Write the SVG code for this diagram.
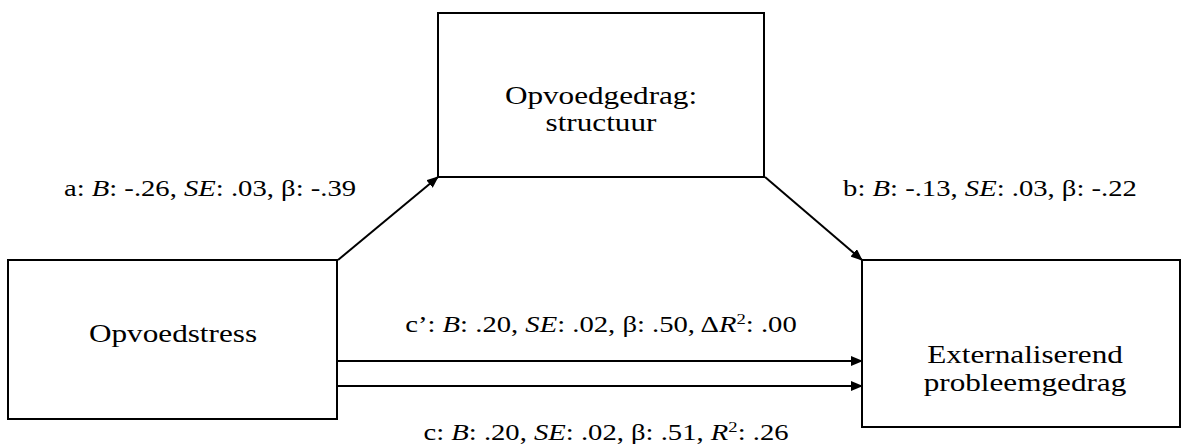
<svg xmlns="http://www.w3.org/2000/svg" width="1184" height="444" viewBox="0 0 1184 444">
<style>
.box{fill:#fff;stroke:#000;stroke-width:2}
.t{font-family:"Liberation Serif","Times New Roman",serif;font-size:23px;fill:#000;text-anchor:middle}
.n{font-size:26px}
.i{font-style:italic}
.c{stroke:#000;stroke-width:2;fill:none;marker-end:url(#ah)}
</style>
<defs>
<marker id="ah" markerWidth="12" markerHeight="10" refX="11" refY="5" orient="auto" markerUnits="userSpaceOnUse" viewBox="0 0 12 10">
<path d="M0,0 L12,5 L0,10 z" fill="#000"/>
</marker>
</defs>
<rect width="1184" height="444" fill="#fff"/>
<g id="connectors">
<line class="c" x1="338" y1="260" x2="438" y2="177"/>
<line class="c" x1="765" y1="177" x2="862" y2="260"/>
<line class="c" x1="337" y1="361" x2="862" y2="361"/>
<line class="c" x1="337" y1="386" x2="862" y2="386"/>
</g>
<g id="labels">
<text class="t" transform="translate(210,196) scale(1.245,1)">a: <tspan class="i">B</tspan>: -.26, <tspan class="i">SE</tspan>: .03, β: -.39</text>
<text class="t" transform="translate(990,196) scale(1.245,1)">b: <tspan class="i">B</tspan>: -.13, <tspan class="i">SE</tspan>: .03, β: -.22</text>
<text class="t" transform="translate(601,332) scale(1.245,1)">c’: <tspan class="i">B</tspan>: .20, <tspan class="i">SE</tspan>: .02, β: .50, Δ<tspan class="i">R</tspan><tspan font-size="15" dy="-8">2</tspan><tspan dy="8">: .00</tspan></text>
<text class="t" transform="translate(606,440) scale(1.245,1)">c: <tspan class="i">B</tspan>: .20, <tspan class="i">SE</tspan>: .02, β: .51, <tspan class="i">R</tspan><tspan font-size="15" dy="-8">2</tspan><tspan dy="8">: .26</tspan></text>
</g>
<g id="node-opvoedstress">
<rect class="box" x="8" y="260" width="329" height="159"/>
<text class="t n" transform="translate(173,342) scale(1.2,1)">Opvoedstress</text>
</g>
<g id="node-opvoedgedrag">
<rect class="box" x="438" y="13" width="326" height="164"/>
<text class="t n" transform="translate(601,104) scale(1.2,1)">Opvoedgedrag:</text>
<text class="t n" transform="translate(601,131) scale(1.2,1)">structuur</text>
</g>
<g id="node-externaliserend">
<rect class="box" x="862" y="260" width="318" height="167"/>
<text class="t n" transform="translate(1025,363) scale(1.2,1)">Externaliserend</text>
<text class="t n" transform="translate(1025,391) scale(1.2,1)">probleemgedrag</text>
</g>
</svg>
